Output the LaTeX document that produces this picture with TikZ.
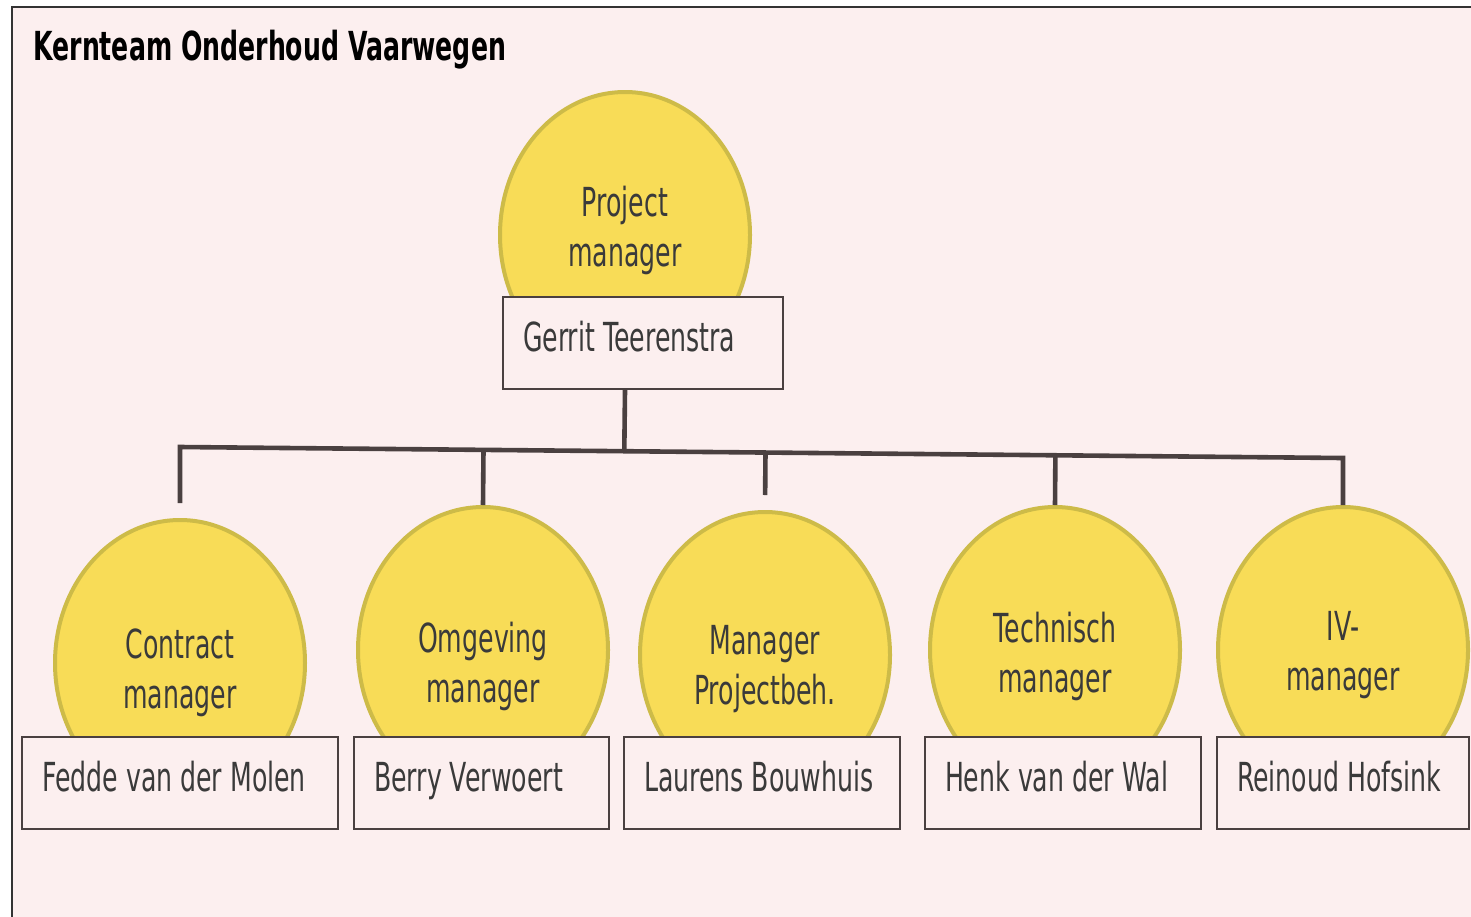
\documentclass[tikz,border=0pt]{standalone}
\usepackage{fontspec}
\setmainfont{DejaVu Sans}[FakeStretch=0.63]
\usetikzlibrary{shapes.geometric,calc}

\definecolor{framebg}{HTML}{FCEFEF}
\definecolor{roleyellow}{HTML}{F8DC57}
\definecolor{roleedge}{HTML}{CDBB48}
\definecolor{linegray}{HTML}{4A4040}
\definecolor{textgray}{HTML}{3A3A3A}

\tikzset{
    role/.style={ellipse, draw=roleedge, line width=2pt, fill=roleyellow,
        inner sep=0pt, minimum width=125pt, minimum height=143pt,
        text width=80pt, text height=20pt, text depth=#1,
        align=center, text=textgray, font=\fontsize{20pt}{25pt}\selectfont},
    role/.default=25pt,
    person/.style={rectangle, draw=linegray, line width=1pt, fill=framebg,
        anchor=north west, minimum height=46pt, inner xsep=10pt,
        text width=#1, text height=16pt, text depth=8pt,
        align=left, text=textgray,
        font=\fontsize{20pt}{25pt}\selectfont,
        execute at begin node={\spaceskip=0pt\xspaceskip=0pt}},
    orgline/.style={draw=linegray, line width=2.3pt}
}

\begin{document}
\begin{tikzpicture}[x=0.5pt, y=-0.5pt]
                \useasboundingbox (0,0) rectangle (1471,916);
                \clip (0,0) rectangle (1471,916);
                \fill[white] (0,0) rectangle (1471,916);
                \draw[fill=framebg, draw=black!80, line width=1.2pt] (12,7) rectangle (1500,950);
                \node[anchor=base west, inner sep=0pt, font=\bfseries\fontsize{20pt}{24pt}\selectfont] (title) at (33,60) {Kernteam Onderhoud Vaarwegen};
                \node[role=39pt] (pm) at (625,235) {Project\\manager};
                \node[person=120pt] (gt) at (502,296) {Gerrit Teerenstra};
                \node[role=25pt] (cm) at (180,663) {Contract\\manager};
                \node[role=18pt] (om) at (483,650) {Omgeving\\manager};
                \node[role=21pt] (mp) at (765,655) {Manager\\Projectbeh.};
                \node[role=28pt] (tm) at (1055,650) {Technisch\\manager};
                \node[role=30pt] (iv) at (1343,650) {IV-\\manager};
                \node[person=138pt] (fm) at (21,736) {Fedde van der Molen};
                \node[person=107.5pt] (bv) at (353,736) {Berry Verwoert};
                \node[person=118pt] (lb) at (623,736) {Laurens Bouwhuis};
                \node[person=118pt] (hw) at (924,736) {Henk van der Wal};
                \node[person=106pt] (rh) at (1216,736) {Reinoud Hofsink};
                \coordinate (barL) at (cm.north |- 0,447);
                \coordinate (barR) at (iv.north |- 0,458);
                \draw[orgline, shorten <=7.5pt] (cm.north) -- (barL) -- (barR) -- (iv.north);
                \draw[orgline] (gt.south -| pm.south) -- ($(barL)!(pm.south)!(barR)$);
                \draw[orgline] ($(barL)!(om.north)!(barR)$) -- (om.north);
                \draw[orgline, shorten >=7.5pt] ($(barL)!(mp.north)!(barR)$) -- (mp.north);
                \draw[orgline] ($(barL)!(tm.north)!(barR)$) -- (tm.north);
\end{tikzpicture}
\end{document}
